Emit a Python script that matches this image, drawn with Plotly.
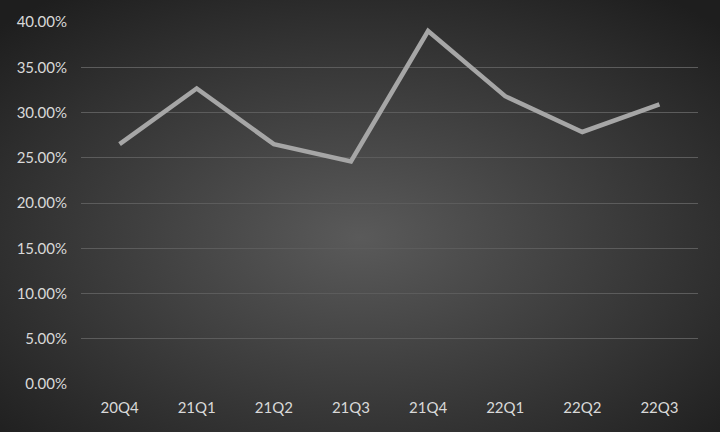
import base64
import plotly.graph_objects as go

categories = ["20Q4", "21Q1", "21Q2", "21Q3", "21Q4", "22Q1", "22Q2", "22Q3"]
values = [0.265, 0.3265, 0.265, 0.246, 0.390, 0.318, 0.2785, 0.309]
y_ticks = [0, 0.05, 0.10, 0.15, 0.20, 0.25, 0.30, 0.35, 0.40]

svg = (
    '<svg xmlns="http://www.w3.org/2000/svg" width="720" height="432">'
    '<defs><radialGradient id="g" cx="50%" cy="55%" r="70%">'
    '<stop offset="0%" stop-color="#5a5a5a"/>'
    '<stop offset="100%" stop-color="#1e1e1e"/>'
    '</radialGradient></defs>'
    '<rect width="720" height="432" fill="url(#g)"/></svg>'
)
bg_uri = "data:image/svg+xml;base64," + base64.b64encode(svg.encode()).decode()

fig = go.Figure()
fig.add_trace(go.Scatter(
    x=categories, y=values, mode="lines",
    line=dict(color="#a6a6a6", width=4.5),
    hoverinfo="x+y",
))

fig.update_layout(
    width=720, height=432,
    margin=dict(l=81, r=22, t=22, b=48),
    paper_bgcolor="#333333",
    plot_bgcolor="rgba(0,0,0,0)",
    showlegend=False,
    font=dict(family="Lato, Open Sans, sans-serif", size=15, color="#d9d9d9"),
    images=[dict(source=bg_uri, xref="paper", yref="paper", x=-81/617, y=1+22/362,
                 sizex=720/617, sizey=432/362, xanchor="left", yanchor="top",
                 sizing="stretch", layer="below")],
    xaxis=dict(
        type="category", range=[-0.5, 7.5], showgrid=False, zeroline=False,
        showline=False, ticks="outside", ticklen=10, tickcolor="rgba(0,0,0,0)",
        tickfont=dict(size=15, color="#d9d9d9"),
    ),
    yaxis=dict(
        range=[0, 0.40], tickvals=y_ticks, tickformat=".2%",
        showgrid=True, gridcolor="#5c5c5c", gridwidth=1.3,
        zeroline=False, showline=False, ticks="outside", ticklen=10,
        tickcolor="rgba(0,0,0,0)", tickfont=dict(size=15, color="#d9d9d9"),
    ),
)

fig.write_html(
    "out.html",
    config={"displayModeBar": False},
    post_script="document.body.style.margin='0';document.body.style.overflow='hidden';",
)
